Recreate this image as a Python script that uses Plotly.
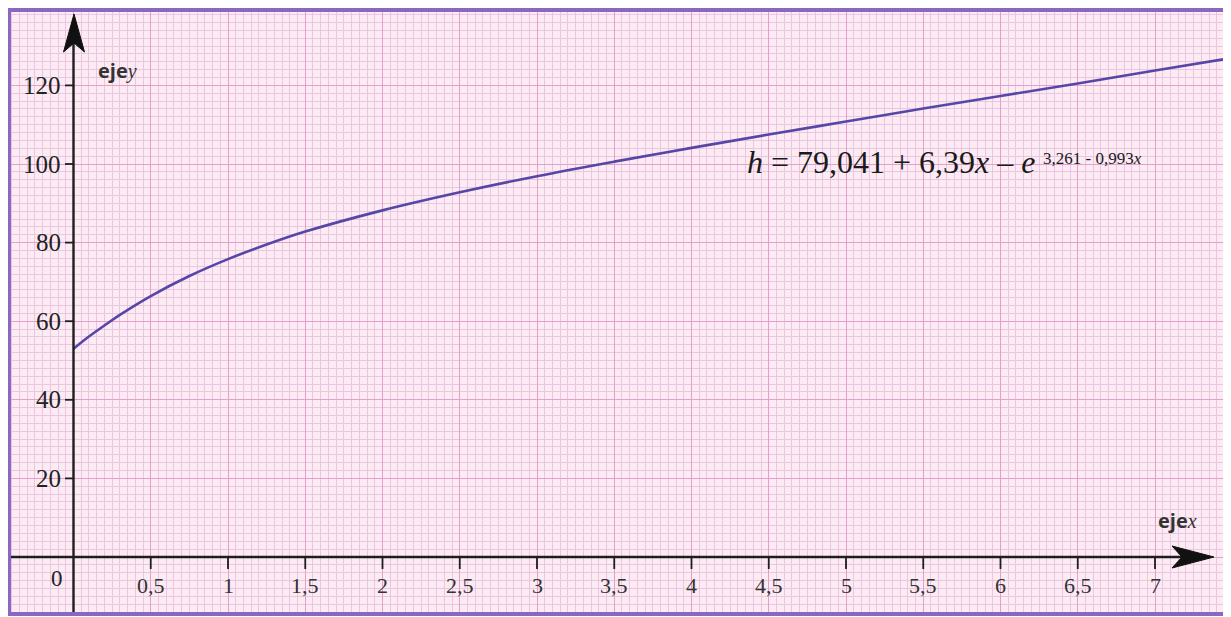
import plotly.graph_objects as go

# ---- data ----
curve_x = [0, 0.05, 0.1, 0.2, 0.3, 0.5, 0.75, 1, 1.25, 1.5, 2, 2.5, 3, 3.5, 4, 4.5, 5, 5.5, 6, 6.5, 7, 7.5]
curve_y = [53.0, 54.6, 56.1, 58.9, 61.6, 66.4, 71.5, 75.8, 79.5, 82.8, 88.2, 92.8, 96.9, 100.6, 104.1, 107.5, 110.8, 114.1, 117.3, 120.5, 123.8, 127.0]

x_tick_vals = [0.5, 1, 1.5, 2, 2.5, 3, 3.5, 4, 4.5, 5, 5.5, 6, 6.5, 7]
x_tick_text = ["0,5", "1", "1,5", "2", "2,5", "3", "3,5", "4", "4,5", "5", "5,5", "6", "6,5", "7"]
y_tick_vals = [20, 40, 60, 80, 100, 120]
y_tick_text = ["20", "40", "60", "80", "100", "120"]

# ---- geometry helpers (page pixel -> data) ----
OFF = 8  # body margin of the html page
PAGE_W, PAGE_H = 1231, 617
W, H = PAGE_W - OFF, PAGE_H - OFF
L, R, T, B = 9, 1231, 10, 614  # plot area in page pixels
X0PX, XS = 73.5, 154.5
Y0PX, YS = 557.0, 3.93


def dx(p):
    return (p - X0PX) / XS


def dy(q):
    return (Y0PX - q) / YS


xr = [dx(L), dx(R)]
yr = [dy(B), dy(T)]

BG = "#fcebf3"
MINOR = "#eac6e2"
MAJOR = "#e3a0cc"
AX = "#1e1e1e"

fig = go.Figure()
fig.add_trace(go.Scatter(x=curve_x, y=curve_y, mode="lines",
                         line=dict(color="#5646a6", width=2.6, shape="spline"),
                         hoverinfo="skip", showlegend=False))

fig.update_layout(
    width=W, height=H,
    margin=dict(l=L - OFF, r=PAGE_W - R, t=T - OFF, b=H - (B - OFF)),
    paper_bgcolor="white", plot_bgcolor=BG,
    showlegend=False,
    xaxis=dict(range=xr, showticklabels=False, zeroline=False, ticks="",
               showgrid=True, dtick=0.5, tick0=0, gridcolor=MAJOR, gridwidth=1.4,
               minor=dict(dtick=0.05, tick0=0, showgrid=True, gridcolor=MINOR, gridwidth=1),
               fixedrange=True),
    yaxis=dict(range=yr, showticklabels=False, zeroline=False, ticks="",
               showgrid=True, dtick=20, tick0=0, gridcolor=MAJOR, gridwidth=1.4,
               minor=dict(dtick=2, tick0=0, showgrid=True, gridcolor=MINOR, gridwidth=1),
               fixedrange=True),
)

shapes = []
# axes lines
shapes.append(dict(type="line", xref="x", yref="y", x0=dx(L), x1=dx(1195), y0=0, y1=0,
                   line=dict(color=AX, width=2.4)))
shapes.append(dict(type="line", xref="x", yref="y", x0=0, x1=0, y0=dy(B), y1=dy(35),
                   line=dict(color=AX, width=2.4)))


def path(pts):
    return "M " + " L ".join(f"{dx(p):.5f},{dy(q):.5f}" for p, q in pts) + " Z"


# arrowheads (stealth style)
shapes.append(dict(type="path", xref="x", yref="y",
                   path=path([(1214, 557), (1172, 546), (1182, 557), (1172, 568)]),
                   fillcolor="#111", line=dict(color="#111", width=1)))
shapes.append(dict(type="path", xref="x", yref="y",
                   path=path([(74, 14), (63.5, 52), (74, 43), (84.5, 52)]),
                   fillcolor="#111", line=dict(color="#111", width=1)))
# ticks
for v in x_tick_vals:
    shapes.append(dict(type="line", xref="x", yref="y", x0=v, x1=v, y0=0, y1=dy(569),
                       line=dict(color=AX, width=1.8)))
for v in y_tick_vals:
    shapes.append(dict(type="line", xref="x", yref="y", x0=dx(65), x1=0, y0=v, y1=v,
                       line=dict(color=AX, width=1.8)))
# border
shapes.append(dict(type="rect", xref="paper", yref="paper", x0=0, x1=1, y0=0, y1=1,
                   line=dict(color="#8a68c2", width=4), fillcolor="rgba(0,0,0,0)", layer="above"))
fig.update_layout(shapes=shapes)

ann = []
SERIF = "Liberation Serif"
for v, t in zip(x_tick_vals, x_tick_text):
    ann.append(dict(x=v, y=dy(585), xref="x", yref="y", text=t, showarrow=False,
                    xanchor="center", yanchor="middle",
                    font=dict(family=SERIF, size=22, color="#333")))
for v, t in zip(y_tick_vals, y_tick_text):
    ann.append(dict(x=dx(63), y=v, xref="x", yref="y", text=t, showarrow=False,
                    xanchor="right", yanchor="middle",
                    font=dict(family=SERIF, size=25, color="#222")))
ann.append(dict(x=dx(57), y=dy(578), xref="x", yref="y", text="0", showarrow=False,
                xanchor="center", yanchor="middle",
                font=dict(family=SERIF, size=23, color="#222")))
ann.append(dict(x=dx(96), y=dy(70), xref="x", yref="y",
                text="<b>eje</b><span style='font-family:Liberation Serif'><i>y</i></span>",
                showarrow=False, xanchor="left", yanchor="middle",
                font=dict(family="Open Sans", size=20, color="#333")))
ann.append(dict(x=dx(1156), y=dy(520), xref="x", yref="y",
                text="<b>eje</b><span style='font-family:Liberation Serif'><i>x</i></span>",
                showarrow=False, xanchor="left", yanchor="middle",
                font=dict(family="Open Sans", size=20, color="#333")))
# equation
ann.append(dict(x=dx(745), y=dy(162), xref="x", yref="y",
                text="<i>h</i> = 79,041 + 6,39<i>x</i> \u2013 <i>e</i>",
                showarrow=False, xanchor="left", yanchor="middle",
                font=dict(family=SERIF, size=32, color="#1a1a1a")))
ann.append(dict(x=dx(1041), y=dy(158), xref="x", yref="y",
                text="3,261 - 0,993<i>x</i>",
                showarrow=False, xanchor="left", yanchor="middle",
                font=dict(family=SERIF, size=17, color="#1a1a1a")))
fig.update_layout(annotations=ann)

fig.write_html("out.html")
